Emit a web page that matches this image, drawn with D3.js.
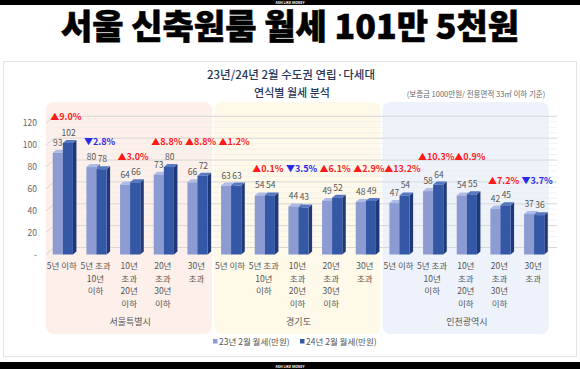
<!DOCTYPE html>
<html><head><meta charset="utf-8">
<script src="https://cdn.jsdelivr.net/npm/d3@7"></script>
<style>html,body{margin:0;padding:0;background:#fff;}svg{display:block;font-family:"Noto Sans CJK KR","Noto Sans",sans-serif;}</style>
</head><body><div id="chart"></div>
<script>
const groups = ["서울특별시", "경기도", "인천광역시"];
const categoryLines = [["5년 이하"], ["5년 초과", "10년", "이하"], ["10년", "초과", "20년", "이하"], ["20년", "초과", "30년", "이하"], ["30년", "초과"]];
const rent2023 = [93, 80, 64, 73, 66, 63, 54, 44, 49, 48, 47, 58, 54, 42, 37];
const rent2024 = [102, 78, 66, 80, 72, 63, 54, 43, 52, 49, 54, 64, 55, 45, 36];
const changeLabels = ["▲9.0%", "▼2.8%", "▲3.0%", "▲8.8%", "▲8.8%", "▲1.2%", "▲0.1%", "▼3.5%", "▲6.1%", "▲2.9%", "▲13.2%", "▲10.3%", "▲0.9%", "▲7.2%", "▼3.7%"];
const changeLabelLevel = [126, 103, 90, 103, 103, 103, 79, 79, 79, 79, 79, 90, 90, 68, 68];
const yTicks = [0, 20, 40, 60, 80, 100, 120];
const seriesNames = ["23년 2월 월세(만원)", "24년 2월 월세(만원)"];
const title = "서울 신축원룸 월세 101만 5천원";
const subtitle1 = "23년/24년 2월 수도권 연립·다세대";
const subtitle2 = "연식별 월세 분석";
const note = "(보증금 1000만원/ 전용면적 33㎡ 이하 기준)";

const W = 580, H = 369;
const svg = d3.select("#chart").append("svg").attr("width", W).attr("height", H);

// title (drawn first, bands on top)
svg.append("text").attr("x", 290).attr("y", 38.5).attr("text-anchor", "middle")
  .attr("font-size", 34).attr("font-weight", 900).attr("fill", "#000")
  .attr("stroke", "#000").attr("stroke-width", 0.6).text(title);

// top & bottom black bands
svg.append("rect").attr("x", 0).attr("y", 0).attr("width", W).attr("height", 5).attr("fill", "#000");
svg.append("text").attr("x", W/2).attr("y", 4).attr("text-anchor", "middle").attr("font-size", 3.5).attr("font-weight", 700).attr("fill", "#fff").text("ASH LIKE MONEY");
svg.append("rect").attr("x", 0).attr("y", 362).attr("width", W).attr("height", 7).attr("fill", "#000");
svg.append("text").attr("x", W/2).attr("y", 367.5).attr("text-anchor", "middle").attr("font-size", 3.5).attr("font-weight", 700).attr("fill", "#fff").text("ASH LIKE MONEY");

// chart frame
svg.append("rect").attr("x", 3.5).attr("y", 61.5).attr("width", 573).attr("height", 295)
  .attr("fill", "#fff").attr("stroke", "#e4e4e4");

svg.append("text").attr("x", 291).attr("y", 79).attr("text-anchor", "middle").attr("font-size", 11.5).attr("font-weight", 500).attr("fill", "#26355a").text(subtitle1);
svg.append("text").attr("x", 292).attr("y", 97).attr("text-anchor", "middle").attr("font-size", 11).attr("font-weight", 500).attr("fill", "#26355a").text(subtitle2);
svg.append("text").attr("x", 476).attr("y", 97).attr("text-anchor", "middle").attr("font-size", 7.5).attr("fill", "#666").text(note);

const x = d3.scaleBand().domain(d3.range(15)).range([46, 551]).paddingInner(0.4).paddingOuter(0.2);
const xs = d3.scaleBand().domain([0, 1]).range([0, x.bandwidth()]);
const y = d3.scaleLinear().domain([0, 120]).range([254.5, 123.3]);

// group panels
const panelColors = ["#fdf0ea", "#fef9e9", "#eef3fb"];
groups.forEach((g, gi) => {
  const x0 = x(gi*5) - 7, x1 = x(gi*5+4) + x.bandwidth() + 4.5;
  svg.append("rect").attr("x", x0).attr("y", 102).attr("width", x1 - x0).attr("height", 232)
    .attr("rx", 8).attr("fill", panelColors[gi]);
  svg.append("text").attr("x", (x(gi*5) + x(gi*5+4) + x.bandwidth())/2).attr("y", 325)
    .attr("text-anchor", "middle").attr("font-size", 9).attr("fill", "#555").text(g);
});

// gridlines (3D back wall)
const dX = 8, dY = 7;
const minor = d3.range(0, 121, 5);
minor.forEach(v => {
  const major = v % 20 === 0;
  svg.append("path").attr("d", `M46,${y(v)}L${46+dX},${y(v)-dY}L557,${y(v)-dY}`)
    .attr("fill", "none").attr("stroke", major ? "#d6d6d6" : "#ececec").attr("stroke-width", major ? 1 : 0.7);
});

// y axis labels
yTicks.forEach(v => {
  svg.append("text").attr("x", 37).attr("y", y(v) + 3).attr("text-anchor", "end")
    .attr("font-size", 8.5).attr("fill", "#666").text(v === 0 ? "-" : v);
});

// bars
const bd = 3.5, bh = 3;
const styles = [
  {front: "#8c9cd3", top: "#aebbe6", side: "#6677b4"},
  {front: "#3558a6", top: "#5677c2", side: "#1f3877"}
];
const series = [rent2023, rent2024];
d3.range(15).forEach(i => {
  series.forEach((arr, si) => {
    const v = arr[i];
    const bx = x(i) + xs(si), bw = xs.bandwidth();
    const yt = y(v), yb = y(0);
    const st = styles[si];
    svg.append("path").attr("d", `M${bx+bw},${yt}L${bx+bw+bd},${yt-bh}L${bx+bw+bd},${yb-bh}L${bx+bw},${yb}Z`).attr("fill", st.side);
    svg.append("path").attr("d", `M${bx},${yt}L${bx+bd},${yt-bh}L${bx+bw+bd},${yt-bh}L${bx+bw},${yt}Z`).attr("fill", st.top);
    svg.append("rect").attr("x", bx).attr("y", yt).attr("width", bw).attr("height", yb - yt).attr("fill", st.front);
  });
  series.forEach((arr, si) => {
    const v = arr[i];
    svg.append("text").attr("x", x(i) + xs(si) + xs.bandwidth()/2 + si*0.8).attr("y", y(v) - 7)
      .attr("text-anchor", "middle").attr("font-size", 8.5).attr("fill", "#555").text(v);
  });
  const up = changeLabels[i].startsWith("▲");
  svg.append("text").attr("x", x(i) + x.bandwidth()/2 + 3).attr("y", y(changeLabelLevel[i]) + 3.5)
    .attr("text-anchor", "middle").attr("font-size", 9).attr("font-weight", 700)
    .attr("fill", up ? "#ff1a1a" : "#2a2ae6").text(changeLabels[i]);
  // category labels
  categoryLines[i % 5].forEach((ln, li) => {
    svg.append("text").attr("x", x(i) + x.bandwidth()/2 - 1).attr("y", 269 + li*12.7)
      .attr("text-anchor", "middle").attr("font-size", 8.5).attr("fill", "#555").text(ln);
  });
});

// legend
const legX = [213, 300];
seriesNames.forEach((n, si) => {
  svg.append("rect").attr("x", legX[si]).attr("y", 339).attr("width", 4.5).attr("height", 4.5).attr("fill", styles[si].front);
  svg.append("text").attr("x", legX[si] + 6).attr("y", 344.5).attr("font-size", 8.5).attr("fill", "#555").text(n);
});
</script></body></html>
